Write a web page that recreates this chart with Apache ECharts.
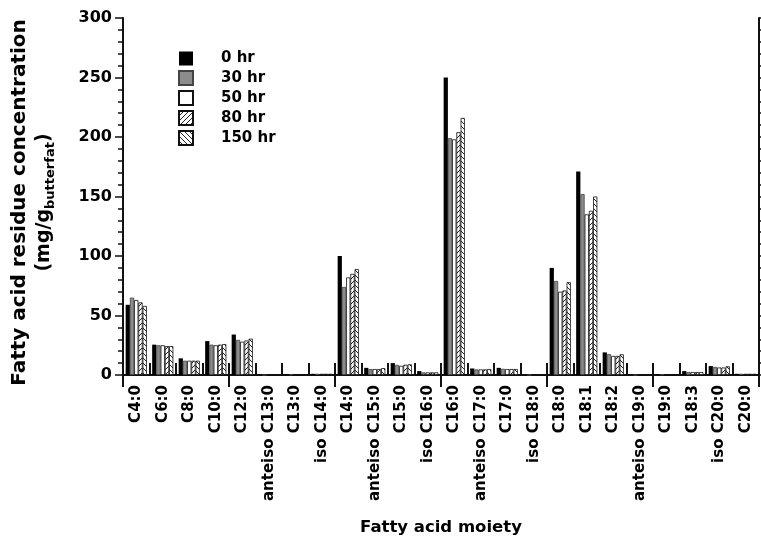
<!DOCTYPE html>
<html>
<head>
<meta charset="utf-8">
<script src="https://cdn.jsdelivr.net/npm/echarts@6/dist/echarts.min.js"></script>
<style>html,body{margin:0;padding:0;background:#fff;}#c{width:761px;height:541px;}</style>
</head>
<body>
<div id="c"></div>
<script>
const categories = ['C4:0','C6:0','C8:0','C10:0','C12:0','anteiso C13:0','C13:0','iso C14:0','C14:0','anteiso C15:0','C15:0','iso C16:0','C16:0','anteiso C17:0','C17:0','iso C18:0','C18:0','C18:1','C18:2','anteiso C19:0','C19:0','C18:3','iso C20:0','C20:0'];
const seriesNames = ['0 hr','30 hr','50 hr','80 hr','150 hr'];
const hr0   = [59, 25.5, 14, 28.5, 34, 0, 0.5, 1, 100, 6, 10, 3.3, 250, 5.5, 6, 0, 90, 171, 19, 0, 0.7, 3.3, 7.5, 1];
const hr30  = [65, 25, 12, 25.5, 29.5, 0, 0.5, 1, 74, 5, 8.5, 2.2, 199, 4.7, 5.2, 0, 79, 152, 17.5, 0, 0.5, 2.5, 6.8, 1];
const hr50  = [63, 25, 12, 25, 28, 0, 0.5, 1, 82, 5, 7.7, 2.2, 198, 4.7, 5, 0, 70, 135, 16, 0, 0.3, 2.5, 6.3, 1];
const hr80  = [61, 24.3, 12, 25.5, 29, 0, 0.5, 1, 85, 5, 8.6, 2.2, 204, 4.7, 5, 0, 71, 138, 16, 0, 0.3, 2.5, 6.3, 1];
const hr150 = [58, 24.3, 12, 26, 30.5, 0, 0.5, 1, 89, 5.8, 9, 2.2, 216, 5, 5, 0, 78, 150, 17.4, 0, 0.3, 2.5, 7.3, 1];
const yTicks = [0, 50, 100, 150, 200, 250, 300];

function hatch(dir) {
  const s = 5;
  const cv = document.createElement('canvas');
  cv.width = s; cv.height = s;
  const g = cv.getContext('2d');
  g.fillStyle = '#fff'; g.fillRect(0, 0, s, s);
  g.strokeStyle = '#222'; g.lineWidth = 1;
  g.beginPath();
  if (dir > 0) {
    g.moveTo(-1, s + 1); g.lineTo(s + 1, -1);
    g.moveTo(-1, 1); g.lineTo(1, -1);
    g.moveTo(s - 1, s + 1); g.lineTo(s + 1, s - 1);
  } else {
    g.moveTo(-1, -1); g.lineTo(s + 1, s + 1);
    g.moveTo(s - 1, -1); g.lineTo(s + 1, 1);
    g.moveTo(-1, s - 1); g.lineTo(1, s + 1);
  }
  g.stroke();
  return { image: cv, repeat: 'repeat' };
}

const FONT = 'DejaVu Sans';
const fills = ['#000', '#8c8c8c', '#fff', hatch(1), hatch(-1)];
const borders = ['#000', '#444', '#111', '#111', '#111'];
const dataSets = [hr0, hr30, hr50, hr80, hr150];

const chart = echarts.init(document.getElementById('c'), null, { renderer: 'canvas' });
chart.setOption({
  backgroundColor: '#fff',
  animation: false,
  grid: { left: 123, right: 2, top: 18, bottom: 161, containLabel: false },
  legend: {
    orient: 'vertical', left: 173, top: 46, itemWidth: 14, itemHeight: 14, itemGap: 4,
    icon: 'rect',
    textStyle: { fontFamily: FONT, fontWeight: 'bold', fontSize: 15, color: '#000', padding: [0, 0, 0, 23] },
    data: seriesNames
  },
  xAxis: [{
    type: 'category', data: categories, position: 'bottom',
    axisLine: { show: true, lineStyle: { color: '#111', width: 2 } },
    axisTick: { show: true, inside: true, length: 12, lineStyle: { color: '#111', width: 2 } },
    axisLabel: { interval: 0, rotate: 90, margin: 10, fontFamily: FONT, fontWeight: 'bold', fontSize: 15, color: '#000' },
    splitLine: { show: false },
    name: 'Fatty acid moiety', nameLocation: 'middle', nameGap: 144,
    nameTextStyle: { fontFamily: FONT, fontWeight: 'bold', fontSize: 16.5, color: '#000' }
  }, {
    type: 'category', data: categories, position: 'top',
    axisLine: { show: true, lineStyle: { color: '#111', width: 2 } },
    axisTick: { show: true, inside: true, length: 12, lineStyle: { color: '#111', width: 2 } },
    axisLabel: { show: false }, splitLine: { show: false }
  }],
  yAxis: [{
    type: 'value', min: yTicks[0], max: yTicks[yTicks.length - 1], interval: 50, position: 'left',
    axisLine: { show: true, lineStyle: { color: '#111', width: 2 } },
    axisTick: { show: true, inside: false, length: 8, lineStyle: { color: '#111', width: 1.5 } },
    minorTick: { show: true, splitNumber: 5, length: 5, lineStyle: { color: '#111', width: 1.5 } },
    splitLine: { show: false },
    axisLabel: { margin: 11, fontFamily: FONT, fontWeight: 'bold', fontSize: 16, color: '#000' },
    name: '{t|Fatty acid residue concentration}\n{t2|(mg/g}{s|butterfat}{t2|)}',
    nameLocation: 'middle', nameRotate: 90, nameGap: 66,
    nameTextStyle: {
      color: '#000', padding: [0, 12, 0, 0],
      rich: {
        t: { fontFamily: FONT, fontWeight: 'bold', fontSize: 20, lineHeight: 22, color: '#000' },
        t2: { fontFamily: FONT, fontWeight: 'bold', fontSize: 19, lineHeight: 26, color: '#000', verticalAlign: 'middle' },
        s: { fontFamily: FONT, fontWeight: 'bold', fontSize: 13, lineHeight: 26, color: '#000', verticalAlign: 'bottom' }
      }
    }
  }, {
    type: 'value', min: yTicks[0], max: yTicks[yTicks.length - 1], interval: 10, position: 'right',
    axisLine: { show: true, lineStyle: { color: '#111', width: 2 } },
    axisTick: { show: true, inside: false, length: 4, lineStyle: { color: '#111', width: 1.5 } },
    axisLabel: { show: false }, splitLine: { show: false }
  }],
  series: seriesNames.map((n, i) => ({
    name: n, type: 'bar', xAxisIndex: 0, yAxisIndex: 0,
    data: dataSets[i],
    barGap: '0%', barCategoryGap: '20%',
    itemStyle: { color: fills[i], borderColor: borders[i], borderWidth: i === 0 ? 0 : 0.8 }
  }))
});
</script>
</body>
</html>
